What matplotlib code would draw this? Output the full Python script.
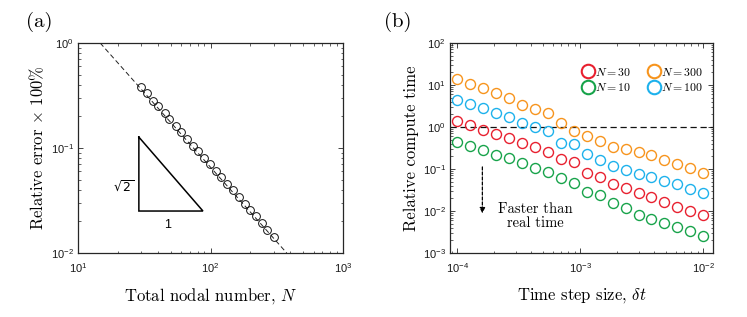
import matplotlib
matplotlib.use("Agg")
import matplotlib.pyplot as plt
from matplotlib.ticker import LogLocator, NullFormatter

# ---------------- data ----------------
# Panel (a): convergence
nodal_N = [30, 33, 37, 40, 45, 49, 55, 60, 67, 74, 81, 90, 99, 110, 121,
           134, 148, 164, 181, 200, 221, 244, 269, 300]
rel_error = [0.380, 0.333, 0.281, 0.252, 0.214, 0.188, 0.161, 0.142, 0.121,
             0.1055, 0.093, 0.080, 0.0698, 0.0601, 0.0524, 0.0454, 0.0394,
             0.0341, 0.0296, 0.0257, 0.0223, 0.0193, 0.0167, 0.0141]
ref_N = [14.7, 376.0]
ref_err = [1.0, 0.01]
tri_N = [28.8, 28.8, 87.7, 28.8]
tri_err = [0.127, 0.0251, 0.0251, 0.127]

# Panel (b): compute time
dt = [1.00e-4, 1.27e-4, 1.62e-4, 2.07e-4, 2.64e-4, 3.36e-4, 4.28e-4, 5.46e-4,
      6.95e-4, 8.86e-4, 1.13e-3, 1.44e-3, 1.83e-3, 2.34e-3, 2.98e-3, 3.79e-3,
      4.83e-3, 6.16e-3, 7.85e-3, 1.00e-2]
time_N300 = [13.8, 10.5, 8.4, 6.4, 4.8, 3.3, 2.65, 2.2, 1.25, 0.80, 0.61, 0.47,
             0.34, 0.30, 0.26, 0.21, 0.163, 0.131, 0.103, 0.0785]
time_N100 = [4.4, 3.5, 2.8, 2.13, 1.71, 1.23, 0.99, 0.81, 0.42, 0.39, 0.227,
             0.163, 0.117, 0.093, 0.074, 0.064, 0.053, 0.043, 0.034, 0.027]
time_N30 = [1.42, 1.12, 0.85, 0.68, 0.54, 0.41, 0.34, 0.26, 0.17, 0.144, 0.081,
            0.065, 0.045, 0.036, 0.027, 0.021, 0.0165, 0.0126, 0.0101, 0.0082]
time_N10 = [0.45, 0.35, 0.28, 0.21, 0.18, 0.136, 0.103, 0.083, 0.060, 0.047,
            0.0287, 0.0238, 0.0159, 0.0115, 0.0082, 0.0064, 0.0052, 0.0042,
            0.0033, 0.0025]
series_labels = ["$N = 30$", "$N = 10$", "$N = 300$", "$N = 100$"]
series_colors = ["#e8202f", "#17a34a", "#f7941d", "#1db1ec"]

# ---------------- style ----------------
plt.rcParams["font.family"] = ["Liberation Sans", "DejaVu Sans"]
plt.rcParams["mathtext.fontset"] = "cm"
plt.rcParams["axes.unicode_minus"] = False
SERIF = ["cmr10", "DejaVu Serif"]
FRAME = "#262626"

fig = plt.figure(figsize=(7.47, 3.17), dpi=100)
ax1 = fig.add_axes([0.1044, 0.2019, 0.3548, 0.6625])
ax2 = fig.add_axes([0.6024, 0.2019, 0.3521, 0.6625])


def style_axes(ax):
    ax.set_xscale("log")
    ax.set_yscale("log")
    for s in ax.spines.values():
        s.set_color(FRAME)
        s.set_linewidth(0.9)
    ax.tick_params(which="both", direction="in", top=True, right=True,
                   colors=FRAME, labelcolor="#1a1a1a", labelsize=8)
    ax.tick_params(which="major", length=3.5, width=0.6)
    ax.tick_params(axis="x", which="major", pad=6)
    ax.tick_params(axis="y", which="major", pad=3)
    ax.tick_params(which="minor", length=1.8, width=0.5)
    for axis in (ax.xaxis, ax.yaxis):
        axis.set_major_locator(LogLocator(base=10, numticks=20))
        axis.set_minor_locator(LogLocator(base=10, subs=range(2, 10), numticks=20))
        axis.set_minor_formatter(NullFormatter())


# ---------------- panel (a) ----------------
style_axes(ax1)
ax1.plot(ref_N, ref_err, ls=(0, (5, 3)), color="#222222", lw=0.7)
ax1.plot(nodal_N, rel_error, ls="none", marker="o", ms=5.6, mfc="none",
         mec="#111111", mew=0.7)
ax1.plot(tri_N, tri_err, color="black", lw=1.1, solid_joinstyle="miter")
ax1.text(22.0, 0.0425, r"$\sqrt{2}$", fontsize=9, ha="center", va="center",
         math_fontfamily="dejavusans")
ax1.text(47.8, 0.0185, "1", fontsize=9, ha="center", va="center")
ax1.set_xlim(10, 1000)
ax1.set_ylim(0.01, 1)
ax1.set_xlabel("Total nodal number, $N$", family=SERIF, fontsize=12, labelpad=8)
ax1.set_ylabel(r"Relative error $\times$ 100%", family=SERIF, fontsize=12,
               labelpad=3)
fig.text(0.052, 0.93, "(a)", family=SERIF, fontsize=15, ha="center", va="center")

# ---------------- panel (b) ----------------
style_axes(ax2)
ax2.axhline(1.0, color="#111111", lw=0.9, ls=(0, (5, 3)))
series = [time_N30, time_N10, time_N300, time_N100]
handles = []
for vals, lab, col in zip(series, series_labels, series_colors):
    h, = ax2.plot(dt, vals, ls="none", marker="o", ms=7.2, mfc="none", mec=col,
                  mew=1.0, label=lab)
    handles.append(h)
leg = ax2.legend(handles=handles, ncol=2, loc="upper right",
                 bbox_to_anchor=(0.98, 0.91), frameon=False, fontsize=8.5,
                 handletextpad=0.05, columnspacing=1.4, labelspacing=0.3,
                 handlelength=1.1, markerscale=1.35, borderaxespad=0.0)
for lh in leg.legend_handles:
    lh.set_markeredgewidth(1.5)

ax2.annotate("", xy=(1.6e-4, 0.0088), xytext=(1.6e-4, 0.112),
             arrowprops=dict(arrowstyle="-|>", ls=(0, (2.5, 1.5)), lw=0.9,
                             color="black", mutation_scale=8, shrinkA=0,
                             shrinkB=0))
ax2.text(4.3e-4, 0.0076, "Faster than\nreal time", family=SERIF, fontsize=10.5,
         ha="center", va="center", linespacing=1.0)
ax2.set_xlim(8.73e-5, 1.2e-2)
ax2.set_ylim(1e-3, 1e2)
ax2.set_xlabel(r"Time step size, $\delta t$", family=SERIF, fontsize=12,
               labelpad=8)
ax2.set_ylabel("Relative compute time", family=SERIF, fontsize=12, labelpad=3)
fig.text(0.533, 0.93, "(b)", family=SERIF, fontsize=15, ha="center", va="center")

fig.savefig("out.png", dpi=100)
